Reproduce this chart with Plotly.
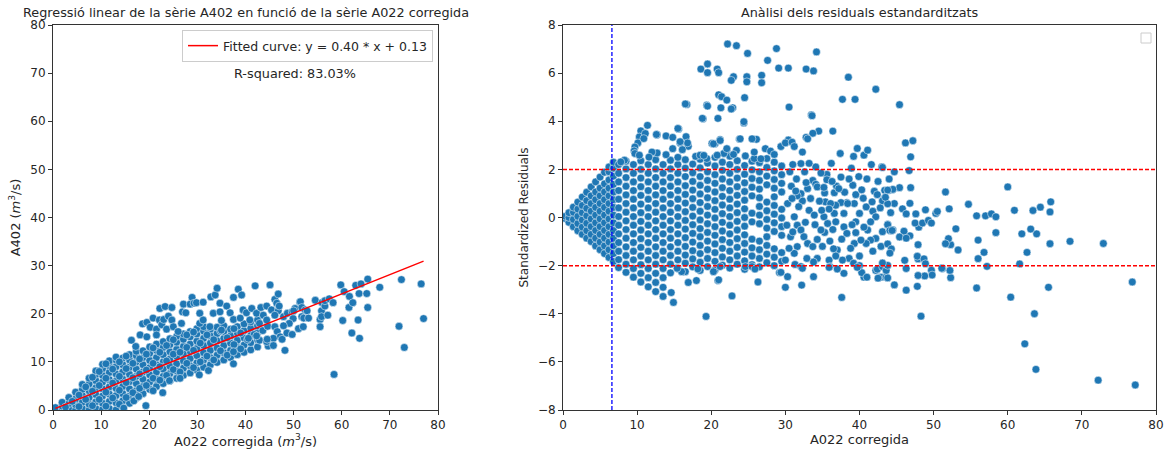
import plotly.graph_objects as go

# ================= LEFT PANEL : A402 vs A022 corregida =================
# Dense band, read column by column: x of each column and the y values in it
band_x = [0.5, 1.9, 3.3, 4.7, 6.1, 7.5, 8.9, 10.3, 11.7, 13.1, 14.5, 15.9, 17.3, 18.7,
          20.1, 21.5, 22.9, 24.3, 25.7, 27.1, 28.5, 29.9, 31.3, 32.7, 34.1, 35.5, 36.9,
          38.3, 39.7, 41.1, 42.5]
band_y = [
    [0.1, 0.5],
    [0.0, 0.8, 1.6],
    [0.2, 1.3, 2.6],
    [0.0, 1.1, 2.3, 3.7],
    [0.3, 1.6, 3.0, 4.3, 5.3],
    [0.0, 1.2, 2.6, 4.0, 5.4, 6.6],
    [0.3, 1.7, 3.2, 4.6, 6.1, 7.4, 8.1],
    [0.1, 1.4, 2.9, 4.4, 5.8, 7.2, 8.6, 9.5],
    [0.3, 1.8, 3.3, 4.8, 6.3, 7.8, 9.2, 10.2],
    [0.0, 1.5, 3.0, 4.5, 6.0, 7.5, 9.0, 10.4, 11.0],
    [0.5, 1.9, 3.4, 4.9, 6.4, 7.9, 9.4, 10.8],
    [1.4, 2.9, 4.4, 5.9, 7.4, 8.9, 10.4, 11.5],
    [2.5, 4.0, 5.5, 7.0, 8.5, 10.0, 11.3, 12.2],
    [3.4, 4.9, 6.4, 7.9, 9.4, 10.9, 12.3],
    [4.3, 5.8, 7.3, 8.8, 10.3, 11.8, 13.1],
    [4.9, 6.4, 7.9, 9.4, 10.9, 12.4, 13.7],
    [5.5, 7.0, 8.5, 10.0, 11.5, 13.0, 14.2],
    [6.1, 7.6, 9.1, 10.6, 12.1, 13.6, 14.8],
    [6.6, 8.1, 9.6, 11.1, 12.6, 14.1, 15.3],
    [7.2, 8.7, 10.2, 11.7, 13.2, 14.7, 15.8],
    [7.7, 9.2, 10.7, 12.2, 13.7, 15.2, 16.3],
    [8.3, 9.8, 11.3, 12.8, 14.3, 15.8, 16.9],
    [8.9, 10.4, 11.9, 13.4, 14.9, 16.4, 17.3],
    [9.4, 10.9, 12.4, 13.9, 15.4, 16.8],
    [9.9, 11.4, 12.9, 14.4, 15.9, 17.2],
    [10.4, 11.9, 13.4, 14.9, 16.3, 17.5],
    [10.9, 12.4, 13.9, 15.4, 16.8],
    [11.5, 13.0, 14.5, 16.0, 17.3],
    [12.0, 13.5, 15.0, 16.5, 17.9],
    [12.5, 14.0, 15.5, 17.0, 18.3],
    [13.1, 14.6, 16.1, 17.5, 18.7],
]
# In-between points of the band (x, y)
band_fill = [
    (2.6, 0.6), (4.0, 1.8), (5.4, 0.7), (5.4, 3.1), (6.8, 2.2), (6.8, 4.8), (8.2, 0.9),
    (8.2, 3.9), (8.2, 6.8), (9.6, 2.2), (9.6, 5.1), (9.6, 8.0), (11.0, 0.8), (11.0, 3.7),
    (11.0, 6.6), (11.0, 9.6), (12.4, 2.5), (12.4, 5.6), (12.4, 8.5), (13.8, 1.2),
    (13.8, 4.1), (13.8, 7.0), (13.8, 10.0), (15.2, 2.6), (15.2, 5.7), (15.2, 8.6),
    (15.2, 11.2), (16.6, 3.6), (16.6, 6.7), (16.6, 9.7), (18.0, 4.5), (18.0, 7.5),
    (18.0, 10.6), (19.4, 5.1), (19.4, 8.3), (19.4, 11.6), (20.8, 6.6), (20.8, 9.7),
    (20.8, 12.9), (22.2, 6.2), (22.2, 9.0), (22.2, 12.0), (23.6, 7.2), (23.6, 10.2),
    (23.6, 13.4), (25.0, 8.4), (25.0, 11.6), (25.0, 14.6), (26.4, 7.9), (26.4, 12.0),
    (27.8, 9.7), (27.8, 13.0), (27.8, 15.6), (29.2, 8.8), (29.2, 12.4), (29.2, 16.2),
    (30.6, 10.0), (30.6, 13.9), (32.0, 11.2), (32.0, 15.6), (33.4, 10.4), (33.4, 14.6),
    (34.8, 12.3), (34.8, 16.4), (36.2, 11.4), (36.2, 15.0), (37.6, 13.6), (37.6, 16.9),
    (39.0, 12.7), (39.0, 16.0), (40.4, 14.6), (41.8, 15.7), (43.6, 16.5), (44.6, 17.4),
]

# Scattered points above / around the band (x, y)
left_upper = [
    (16.3, 14.5), (17.2, 13.2), (18.1, 15.6), (18.6, 17.9), (19.5, 18.2), (19.5, 15.2),
    (20.2, 17.2), (20.8, 19.1), (21.5, 16.8), (21.5, 15.6), (22.1, 18.7), (22.2, 21.1),
    (22.6, 17.7), (23.0, 18.8), (23.3, 21.5), (23.6, 16.8), (24.0, 19.5), (24.7, 21.3),
    (24.7, 18.7), (25.0, 17.3), (26.0, 16.3), (26.7, 18.0), (26.9, 20.4), (27.1, 22.0),
    (27.6, 20.2), (28.5, 22.0), (28.9, 23.4), (29.3, 22.2), (29.8, 22.3), (30.5, 20.1),
    (30.5, 18.0), (31.2, 22.4), (31.2, 18.7), (32.6, 17.3), (32.8, 23.5), (33.3, 20.1),
    (33.7, 23.9), (34.1, 25.3), (34.7, 22.2), (34.7, 20.4), (35.0, 18.6), (36.1, 21.6),
    (36.8, 20.2), (37.5, 23.4), (37.5, 18.8), (38.5, 25.1), (38.9, 19.1), (39.2, 23.9),
    (39.5, 20.8), (40.2, 20.2), (40.9, 18.7), (41.3, 21.1), (42.0, 25.8), (42.3, 20.1),
    (42.9, 18.0), (43.2, 21.3), (43.7, 19.7), (44.4, 21.6), (44.4, 18.7), (45.1, 26.0),
    (45.4, 20.8), (46.1, 23.0), (46.5, 22.2), (46.8, 24.1), (46.8, 20.6), (47.0, 21.6),
    (46.1, 19.7), (47.9, 19.4), (48.7, 20.1), (49.7, 20.4), (50.3, 21.1), (51.3, 22.4),
    (49.9, 19.0), (49.1, 18.0), (47.9, 17.5), (46.1, 17.3), (46.6, 16.3), (47.2, 15.2),
    (45.8, 14.9), (44.7, 13.3), (42.9, 14.5), (42.3, 15.4), (44.4, 14.2), (40.6, 14.9),
    (45.8, 13.4), (47.6, 14.7), (44.5, 14.7), (48.6, 16.0), (49.7, 15.7), (35.0, 16.6),
]
# Points at the high-flow end (x > 48)
left_tail = [
    (48.2, 12.4), (50.0, 20.6), (51.0, 16.9), (51.4, 22.5), (51.7, 21.3), (51.7, 19.4),
    (52.0, 17.3), (52.1, 19.1), (52.4, 20.8), (52.8, 20.6), (53.1, 19.1), (54.5, 22.8),
    (55.5, 18.8), (55.5, 17.3), (55.8, 20.6), (55.8, 19.4), (55.9, 22.3), (56.5, 21.6),
    (56.5, 22.7), (57.1, 19.7), (57.4, 23.1), (58.2, 22.3), (58.4, 7.4), (59.8, 26.0),
    (60.2, 18.6), (60.5, 24.6), (61.5, 21.3), (61.6, 23.6), (62.1, 16.0), (62.3, 22.3),
    (62.9, 25.9), (63.4, 18.7), (63.6, 24.2), (63.7, 14.9), (64.0, 26.2), (65.2, 24.2),
    (65.4, 21.3), (65.4, 27.2), (67.9, 25.5), (71.9, 17.4), (72.4, 27.1), (73.0, 13.0),
    (76.5, 26.2), (77.0, 19.0),
]
# Points below the band
left_lower = [
    (14.7, 0.4), (16.8, 1.9), (17.8, 2.8), (19.3, 0.9), (20.8, 4.0), (22.8, 3.6),
    (24.2, 6.1), (26.4, 6.6), (30.4, 7.3), (32.3, 8.2), (37.5, 9.6), (37.5, 12.1),
]

fit_slope = 0.40
fit_intercept = 0.13
r_squared_pct = 83.03

# ================= RIGHT PANEL : standardized residuals =================
res_band_x = [0.3, 0.8, 1.4, 2.0, 2.6, 3.2, 3.8, 4.4, 5.0, 5.6, 6.2, 6.8,
              7.5, 8.5, 9.5, 10.5, 11.5, 12.5, 13.5, 14.5, 15.5, 16.5, 17.5, 18.5,
              19.5, 20.5, 21.5, 22.5, 23.5, 24.5, 25.5, 26.5, 27.5, 28.5, 29.5]
res_band_r = [
    [-0.04, 0.05],
    [-0.2, 0.0, 0.2],
    [-0.38, -0.08, 0.22, 0.43],
    [-0.55, -0.25, 0.05, 0.35, 0.64],
    [-0.7, -0.4, -0.1, 0.2, 0.5, 0.85],
    [-0.86, -0.55, -0.24, 0.07, 0.38, 0.7, 1.05],
    [-1.0, -0.7, -0.38, -0.06, 0.26, 0.58, 0.9, 1.27],
    [-1.18, -0.86, -0.54, -0.22, 0.1, 0.42, 0.74, 1.06, 1.48],
    [-1.34, -1.02, -0.7, -0.38, -0.06, 0.26, 0.58, 0.9, 1.22, 1.68],
    [-1.5, -1.18, -0.86, -0.54, -0.22, 0.1, 0.42, 0.74, 1.06, 1.4, 1.88],
    [-1.66, -1.34, -1.02, -0.7, -0.38, -0.06, 0.26, 0.58, 0.9, 1.22, 1.56, 1.9, 2.1],
    [-1.83, -1.5, -1.18, -0.86, -0.54, -0.22, 0.1, 0.42, 0.74, 1.06, 1.38, 1.72, 2.05, 2.3],
    [-2.08, -1.75, -1.4, -1.04, -0.68, -0.32, 0.04, 0.4, 0.76, 1.12, 1.48, 1.84, 2.2],
    [-2.28, -1.94, -1.58, -1.22, -0.86, -0.5, -0.14, 0.22, 0.58, 0.94, 1.3, 1.66, 2.02, 2.34],
    [-2.48, -2.12, -1.76, -1.4, -1.04, -0.68, -0.32, 0.04, 0.4, 0.76, 1.12, 1.48, 1.84, 2.2],
    [-2.68, -2.32, -1.96, -1.6, -1.24, -0.88, -0.52, -0.16, 0.2, 0.56, 0.92, 1.28, 1.64, 2.0, 2.36],
    [-2.88, -2.5, -2.12, -1.76, -1.4, -1.04, -0.68, -0.32, 0.04, 0.4, 0.76, 1.12, 1.48, 1.84, 2.2],
    [-3.08, -2.7, -2.32, -1.94, -1.58, -1.22, -0.86, -0.5, -0.14, 0.22, 0.58, 0.94, 1.3, 1.66, 2.02, 2.4],
    [-3.28, -2.9, -2.5, -2.12, -1.76, -1.4, -1.04, -0.68, -0.32, 0.04, 0.4, 0.76, 1.12, 1.48, 1.84, 2.2],
    [-2.3, -1.94, -1.58, -1.22, -0.86, -0.5, -0.14, 0.22, 0.58, 0.94, 1.3, 1.66, 2.02, 2.38],
    [-2.12, -1.76, -1.4, -1.04, -0.68, -0.32, 0.04, 0.4, 0.76, 1.12, 1.48, 1.84, 2.2, 2.5],
    [-2.25, -1.9, -1.56, -1.2, -0.84, -0.48, -0.12, 0.24, 0.6, 0.96, 1.32, 1.7, 2.05, 2.4],
    [-2.05, -1.72, -1.38, -1.02, -0.66, -0.3, 0.06, 0.42, 0.78, 1.14, 1.5, 1.86, 2.22],
    [-2.2, -1.86, -1.5, -1.16, -0.8, -0.46, -0.1, 0.26, 0.62, 0.98, 1.34, 1.7, 2.06, 2.42],
    [-2.04, -1.7, -1.34, -0.98, -0.62, -0.26, 0.1, 0.46, 0.82, 1.18, 1.54, 1.9, 2.26],
    [-2.18, -1.82, -1.46, -1.1, -0.74, -0.38, -0.02, 0.34, 0.7, 1.06, 1.42, 1.78, 2.14, 2.5],
    [-1.98, -1.64, -1.28, -0.92, -0.56, -0.2, 0.16, 0.52, 0.88, 1.24, 1.6, 1.96, 2.3],
    [-2.1, -1.76, -1.4, -1.04, -0.68, -0.32, 0.04, 0.4, 0.76, 1.12, 1.48, 1.84, 2.2, 2.55],
    [-1.94, -1.6, -1.24, -0.88, -0.52, -0.16, 0.2, 0.56, 0.92, 1.28, 1.64, 2.0, 2.36],
    [-2.15, -1.8, -1.44, -1.08, -0.72, -0.36, 0.0, 0.36, 0.72, 1.08, 1.44, 1.8, 2.16],
    [-1.96, -1.6, -1.26, -0.9, -0.18, 0.18, 0.9, 1.26, 1.62, 1.98, 2.34],
    [-2.05, -1.7, -1.34, -0.98, -0.26, 0.1, 0.46, 0.82, 1.18, 1.54, 1.9, 2.28],
    [-1.88, -1.52, -1.16, -0.8, -0.44, -0.08, 0.28, 0.64, 1.36, 1.72, 2.08, 2.45],
    [-2.0, -1.65, -1.3, -0.58, -0.22, 0.14, 0.5, 0.86, 1.22, 1.58, 1.94, 2.3],
    [-1.82, -1.46, -0.74, -0.38, -0.02, 0.34, 1.06, 1.42, 1.78, 2.14],
]

# Residuals above the +2 band (x, r)
res_high = [
    (11.4, 3.83), (10.5, 3.6), (10.3, 3.35), (10.1, 3.1), (9.7, 2.93), (9.6, 2.77),
    (9.7, 2.66), (10.3, 2.59), (11.1, 3.49), (10.9, 3.28), (12.7, 3.44), (13.9, 3.39),
    (15.6, 3.68), (16.7, 4.7), (18.9, 4.1), (19.4, 4.67), (15.8, 3.1), (16.9, 2.96),
    (16.1, 2.82), (17.9, 2.54), (18.5, 2.59), (19.4, 2.45), (20.5, 3.07), (21.2, 3.24),
    (22.9, 4.56), (24.4, 3.93), (25.6, 3.26), (23.8, 3.26), (22.1, 2.82), (21.7, 2.66),
    (20.8, 2.59), (23.4, 2.79), (24.6, 2.56), (25.8, 2.45), (14.8, 2.86), (13.9, 2.61),
    (12.7, 2.68), (12.0, 2.72), (11.6, 2.51), (15.5, 3.70), (12.6, 3.45), (14.8, 3.33),
    (16.6, 3.36), (16.8, 3.1), (15.8, 3.15), (20.1, 3.08), (26.1, 3.25), (30.4, 3.22),
    (22.2, 7.21), (23.4, 7.14), (24.9, 6.82), (28.8, 7.02), (34.2, 6.88),
    (27.6, 6.53), (18.6, 6.17), (19.5, 6.38), (19.5, 6.02), (20.8, 6.17), (21.0, 6.02),
    (23.0, 5.85), (24.8, 5.85), (24.8, 5.64), (26.8, 5.91), (26.8, 5.6), (29.1, 6.21),
    (30.4, 6.21), (32.8, 6.17), (33.8, 6.09), (22.7, 5.7), (21.0, 5.10), (21.4, 5.02),
    (22.1, 4.88), (24.5, 4.98), (22.7, 4.51), (21.3, 4.56), (19.5, 4.63), (18.8, 4.12),
    (20.9, 4.12), (24.4, 3.98), (30.5, 4.59), (33.5, 4.26), (37.7, 4.91), (39.4, 4.91),
    (42.2, 5.33), (38.5, 5.83), (16.5, 4.72), (36.4, 3.59), (34.5, 3.59),
    (32.8, 3.33), (33.7, 3.5), (39.7, 2.87), (40.6, 2.59), (41.1, 2.8), (37.4, 2.66),
    (19.0, 2.58), (20.3, 3.06), (21.2, 3.2), (22.1, 2.86), (23.0, 2.62), (23.9, 3.27),
    (25.5, 3.27), (25.8, 2.72), (26.7, 2.44), (27.3, 2.86), (28.0, 2.76), (28.5, 2.62),
    (29.4, 2.95), (30.0, 3.1), (30.9, 3.13), (31.2, 2.95), (32.3, 2.72),
    (33.0, 3.27), (33.6, 4.23), (39.2, 2.54), (8.3, 2.38), (7.8, 2.31),
]

# Residuals in the 30-45 region between the bands (x, r)
res_mid = [
    (35.6, 1.79), (35.6, 1.57), (37.5, 1.68), (33.7, 1.54), (34.1, 1.38), (34.3, 1.27),
    (35.3, 1.02), (36.6, 1.03), (39.1, 1.34), (39.5, 0.95), (39.3, 0.58), (38.3, 0.62),
    (37.5, 0.62), (36.8, 0.51), (35.4, 0.65), (34.6, 0.68), (33.4, 0.79), (32.3, 0.69),
    (32.1, 0.99), (31.6, 0.9), (33.2, 0.3), (33.9, 0.1), (35.2, 0.03), (36.6, 0.17),
    (37.9, 0.17), (39.5, -0.18), (40.9, 0.44), (42.0, 1.09), (42.4, 0.95), (43.4, 1.13),
    (44.0, 1.13), (44.5, 1.16), (44.7, 0.58), (43.4, 0.81), (43.1, 0.69), (41.8, 0.26),
    (42.2, 0.03), (43.8, -0.29), (44.5, -0.52), (43.1, -0.59), (42.2, -0.87), (41.5, -0.94),
    (40.9, -1.08), (39.3, -1.08), (38.8, -1.28), (37.0, -1.35), (36.0, -0.98), (35.3, -0.62),
    (36.4, -0.5), (36.8, -0.18), (37.9, -0.39), (38.3, -0.66), (39.5, -0.63), (40.2, -0.94),
    (38.6, -1.7), (37.7, -1.77), (35.9, -1.77), (34.3, -1.7), (32.9, -1.7), (30.0, -1.77),
    (31.2, 0.03), (31.6, -0.32), (32.1, -0.52), (32.5, -0.8), (33.0, -1.08), (33.7, -1.21),
    (34.3, -0.91), (34.8, -0.52), (31.6, -1.21), (31.2, -1.49), (30.5, -1.28), (30.7, -0.8),
    (30.2, -0.32), (30.3, 0.58), (30.9, 0.79), (35.7, -0.25), (36.1, 0.58), (38.4, 0.58),
    (40.0, 0.17), (41.1, -0.52), (41.5, -0.18), (32.1, 2.24), (34.1, 2.1), (31.5, 1.6),
    (32.6, 1.9), (33.2, 2.25), (31.0, 2.2), (34.8, 1.85), (36.2, 2.25),
    (43.0, 2.1), (30.8, 1.3), (31.8, 0.45), (33.0, 1.2), (36.9, 1.3),
    (38.0, 1.05), (40.5, 0.8), (41.0, 1.6), (42.5, 1.5),
    (30.6, 1.9), (31.4, 1.1), (32.8, 1.45), (34.9, 0.3), (35.9, 0.35), (36.3, 1.5),
    (37.2, 1.2), (38.6, 1.6), (39.9, 1.7), (40.3, 1.15), (41.7, 0.65), (42.8, 0.4),
    (44.2, 0.2), (31.0, -0.6), (32.7, -0.2), (34.0, -0.3), (35.0, -1.2), (36.5, -1.3),
    (37.6, -0.9), (39.0, -0.3), (40.6, -0.4), (41.8, -1.4), (42.9, -1.2), (40.0, -1.6),
    (39.2, -1.9), (36.8, -1.6), (33.8, -1.85), (31.3, -1.95), (35.2, 1.25), (38.9, 2.05),
    (41.6, 2.2), (44.0, 1.6),
]

# Residuals below the -2 band (x, r)
res_low = [
    (14.9, -3.53), (14.6, -3.12), (16.9, -2.7), (18.0, -2.62), (20.9, -2.62), (19.3, -4.11),
    (22.8, -3.26), (26.3, -2.68), (30.0, -2.9), (32.2, -2.81), (33.8, -2.46), (29.2, -2.29),
    (30.3, -2.46), (37.6, -3.32), (40.6, -2.48), (42.9, -2.48), (42.2, -2.2),
    (36.0, -2.04), (37.9, -2.32), (40.3, -2.29), (40.0, -2.0), (16.0, -2.25),
    (15.4, -2.11), (18.2, -2.14), (21.2, -2.04), (20.3, -2.25), (24.6, -2.04), (25.5, -2.04),
    (25.9, -2.14), (32.1, -2.04), (35.9, -2.07), (37.0, -2.14), (39.7, -2.07), (41.0, -2.48),
    (42.4, -2.15), (43.1, -2.04), (43.6, -2.48), (42.5, -2.52), (29.4, -2.28),
    (32.3, -2.11), (21.0, -2.59),
]

# Residuals at the high-flow end, x > 43 (x, r)
res_tail = [
    (45.4, 4.69), (46.2, 3.1), (47.2, 3.19), (46.9, 2.52), (46.7, 1.95), (44.7, 1.90),
    (43.1, 2.08), (60.0, 1.27), (65.8, 0.65), (65.7, 0.23), (64.4, 0.43), (63.4, 0.29),
    (60.9, 0.30), (54.7, 0.55), (52.1, 0.36), (51.6, 1.06), (55.8, 0.07), (57.0, 0.07),
    (57.8, 0.15), (58.4, 0.03), (58.4, -0.63), (61.9, -0.68), (63.9, -0.68), (63.1, -0.48),
    (65.7, -1.09), (68.4, -0.99), (72.9, -1.08), (62.6, -1.45), (61.6, -1.93), (60.4, -3.31),
    (63.6, -4.0), (62.3, -5.25), (63.8, -6.31), (72.2, -6.76), (77.2, -6.96), (76.8, -2.68),
    (65.5, -2.90), (55.8, -2.93), (48.3, -4.1), (56.0, -0.94), (56.0, -1.71), (56.8, -1.45),
    (57.2, -2.03), (53.0, -0.47), (53.3, -1.35), (52.3, -1.13), (52.0, -0.88), (51.6, -1.09),
    (52.3, -2.5), (52.2, -2.2), (51.2, -2.12), (49.7, -2.19), (49.8, -2.39), (48.8, -2.43),
    (47.9, -2.41), (47.8, -2.86), (46.3, -3.02), (44.7, -2.8), (43.8, -2.51), (43.6, -2.2),
    (43.8, -1.99), (46.3, -2.12), (46.1, -1.78), (47.9, -1.72), (47.8, -1.61), (48.7, -1.72),
    (48.9, -1.92), (47.9, -1.13), (48.0, -0.4), (47.5, -0.23), (47.6, 0.15), (48.5, -0.23),
    (49.3, -0.12), (49.7, -0.23), (48.9, 0.32), (50.3, 0.17), (50.5, 0.25), (46.8, -0.76),
    (46.0, -0.57), (45.4, -0.81), (46.3, -0.86), (45.8, 0.36), (46.3, 0.15), (46.8, 0.59),
    (46.9, 1.24), (45.4, 1.24), (44.5, 1.17), (43.8, 1.14), (43.8, 0.57), (43.5, 0.84),
    (43.8, -0.3), (44.1, -0.54), (44.4, -0.54), (43.8, -1.1), (44.3, -1.31), (44.1, -1.48),
    (43.1, -1.89), (51.1, -2.11),
]

resid_cutoff = 2.0
x_marker_line = 6.6

# ---------------- assemble ----------------
lx = [x for x, col in zip(band_x, band_y) for _ in col]
ly = [y for col in band_y for y in col]
for pts in (band_fill, left_upper, left_tail, left_lower):
    lx += [p[0] for p in pts]
    ly += [p[1] for p in pts]

rx = [x for x, col in zip(res_band_x, res_band_r) for _ in col]
rr = [r for col in res_band_r for r in col]
for pts in (res_high, res_mid, res_low, res_tail):
    rx += [p[0] for p in pts]
    rr += [p[1] for p in pts]

fit_x = [min(lx), max(lx)]
fit_y = [fit_slope * v + fit_intercept for v in fit_x]

BLUE = "#1f77b4"
FONT = "DejaVu Sans"
TXT = "#262626"
marker = dict(color=BLUE, size=7.8, line=dict(color="white", width=0.5))

fig = go.Figure()
fig.add_trace(go.Scatter(x=lx, y=ly, mode="markers", marker=marker,
                         showlegend=False, xaxis="x", yaxis="y", hoverinfo="skip"))
fig.add_trace(go.Scatter(x=fit_x, y=fit_y, mode="lines",
                         line=dict(color="#ff0000", width=1.5),
                         name=f"Fitted curve: y = {fit_slope:.2f} * x + {fit_intercept:.2f}",
                         showlegend=True, xaxis="x", yaxis="y"))
fig.add_trace(go.Scatter(x=rx, y=rr, mode="markers", marker=marker,
                         showlegend=False, xaxis="x2", yaxis="y2", hoverinfo="skip"))

W, H = 1164, 451
top, bottom = 25, 41
plot_h = H - top - bottom

axis_common = dict(showgrid=False, zeroline=False, showline=True, mirror=True,
                   linecolor="#333", linewidth=1, ticks="outside", ticklen=4,
                   tickcolor="#333", tickwidth=1,
                   tickfont=dict(family=FONT, size=12, color=TXT),
                   automargin=False)

fig.update_layout(
    width=W, height=H,
    margin=dict(l=0, r=0, t=top, b=bottom),
    paper_bgcolor="white", plot_bgcolor="white",
    font=dict(family=FONT, size=12, color=TXT),
    xaxis=dict(domain=[53 / W, 438 / W], range=[0, 80], tick0=0, dtick=10, anchor="y",
               title=dict(text="A022 corregida (<i>m</i><sup>3</sup>/s)",
                          font=dict(family=FONT, size=13, color=TXT), standoff=2),
               **axis_common),
    yaxis=dict(domain=[0, 1], range=[0, 80], tick0=0, dtick=10, anchor="x",
               title=dict(text="A402 (<i>m</i><sup>3</sup>/s)",
                          font=dict(family=FONT, size=13, color=TXT), standoff=6),
               **axis_common),
    xaxis2=dict(domain=[563 / W, 1156 / W], range=[0, 80], tick0=0, dtick=10, anchor="y2",
                title=dict(text="A022 corregida",
                           font=dict(family=FONT, size=13, color=TXT), standoff=2),
                **axis_common),
    yaxis2=dict(domain=[0, 1], range=[-8, 8], tick0=-8, dtick=2, anchor="x2",
                title=dict(text="Standardized Residuals",
                           font=dict(family=FONT, size=12, color=TXT), standoff=6),
                **axis_common),
    legend=dict(x=433 / W, xanchor="right", y=(H - bottom - 30) / plot_h, yanchor="top",
                bgcolor="white", bordercolor="#cccccc", borderwidth=1,
                font=dict(family=FONT, size=12.5, color=TXT),
                itemwidth=30, tracegroupgap=0),
    showlegend=True,
)

fig.add_annotation(text="Regressió linear de la sèrie A402 en funció de la sèrie A022 corregida",
                   xref="x domain", x=0.5, yref="paper", y=1 + 13 / plot_h,
                   yanchor="middle", showarrow=False,
                   font=dict(family=FONT, size=12.8, color=TXT))
fig.add_annotation(text="Anàlisi dels residuals estandarditzats",
                   xref="x2 domain", x=0.5, yref="paper", y=1 + 13 / plot_h,
                   yanchor="middle", showarrow=False,
                   font=dict(family=FONT, size=12.8, color=TXT))
fig.add_annotation(text=f"R-squared: {r_squared_pct:.2f}%",
                   xref="x domain", x=0.629, yref="y domain", y=0.874,
                   xanchor="center", yanchor="middle",
                   showarrow=False, font=dict(family=FONT, size=12.8, color=TXT))

# reference lines on the residual panel
for level in (resid_cutoff, -resid_cutoff):
    fig.add_shape(type="line", xref="x2 domain", x0=0, x1=1, yref="y2", y0=level, y1=level,
                  line=dict(color="#ff0000", width=1.5, dash="4px,2px"), layer="above")
fig.add_shape(type="line", xref="x2", x0=x_marker_line, x1=x_marker_line,
              yref="y2 domain", y0=0, y1=1,
              line=dict(color="#0000ff", width=1.3, dash="4px,2px"), layer="above")
# empty legend frame on the residual panel
fig.add_shape(type="rect", xref="paper", yref="paper",
              x0=1141 / W, x1=1151 / W,
              y0=(H - bottom - 43) / plot_h, y1=(H - bottom - 33) / plot_h,
              line=dict(color="#cccccc", width=1), fillcolor="white", layer="above")

fig.write_html("out.html")
